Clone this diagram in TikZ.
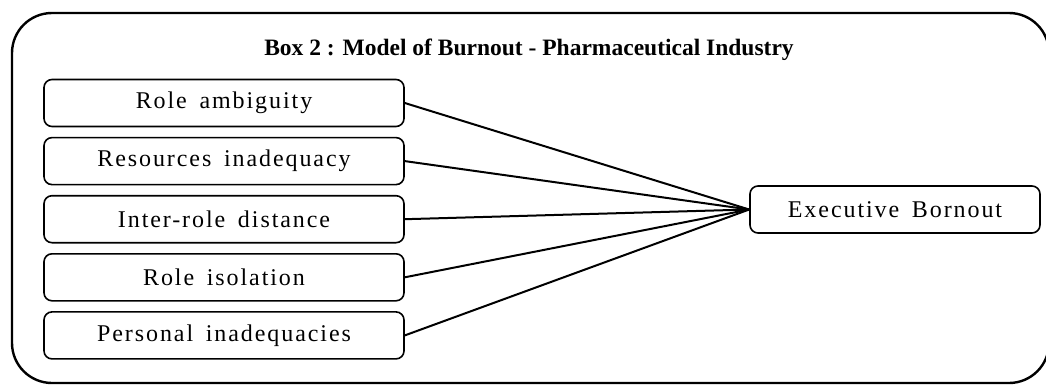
\documentclass[tikz,border=0pt]{standalone}
\usepackage{fontspec}
\setmainfont{Liberation Serif}
\newfontfamily\causefont[LetterSpace=8, WordSpace=1.6]{Liberation Serif}
\usetikzlibrary{positioning}

\begin{document}
\begin{tikzpicture}[
    x=1pt, y=-1pt,
    node distance=9.5pt,
    cause/.style={draw, line width=1.6pt, rounded corners=8pt, minimum width=360pt,
                  minimum height=47pt, inner sep=0pt,
                  font=\causefont\fontsize{24}{28}\selectfont},
    link/.style={line width=2pt}
]
\clip (0,0) rectangle (1046,386);
% frame round the model
\draw[line width=2.4pt, rounded corners=40pt] (12,13) rectangle (1049,383);
\node[font=\fontsize{23.5}{26}\selectfont\bfseries] (title) at (529,50) {Box 2 : Model of Burnout - Pharmaceutical Industry};

\node[cause] (ambiguity) at (224,103) {Role ambiguity};
\node[cause, below=of ambiguity] (resources) {Resources inadequacy};
\node[cause, below=of resources] (distance) {Inter-role distance};
\node[cause, below=of distance] (isolation) {Role isolation};
\node[cause, below=of isolation] (personal) {Personal inadequacies};

\node[cause, minimum width=290pt] (burnout) at (895,209.5) {Executive Bornout};

\foreach \src in {ambiguity, resources, distance, isolation, personal}
    \draw[link] (\src.east) -- (burnout.west);
\end{tikzpicture}
\end{document}
